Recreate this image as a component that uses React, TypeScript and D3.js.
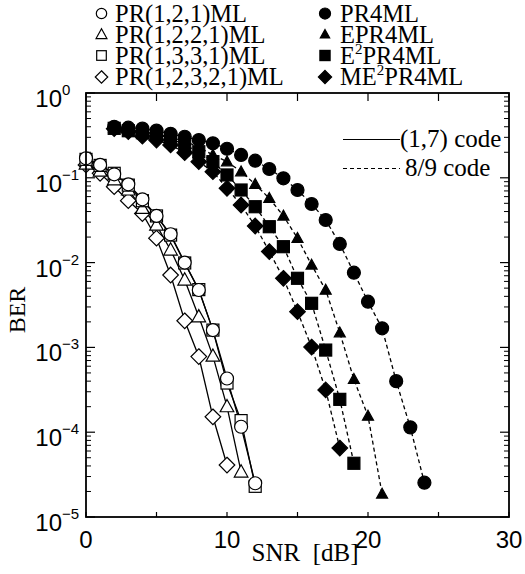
import React from "react";
import * as d3 from "d3";

// ---- data ----
const snrPR121 = [0, 1, 2, 3, 4, 5, 6, 7, 8, 9, 10, 11, 12];
const berPR121 = [0.17, 0.142, 0.11, 0.0838, 0.0558, 0.0355, 0.0216, 0.01, 0.00475, 0.0016, 4.3e-4, 1.16e-4, 2.5e-5];
const snrPR1221 = [0, 1, 2, 3, 4, 5, 6, 7, 8, 9, 10, 11];
const berPR1221 = [0.145, 0.12, 0.095, 0.072, 0.0437, 0.0277, 0.0141, 0.00624, 0.0023, 7.9e-4, 2.0e-4, 3.4e-5];
const snrPR1331 = [0, 1, 2, 3, 4, 5, 6, 7, 8, 9, 10, 11, 12];
const berPR1331 = [0.165, 0.14, 0.113, 0.082, 0.0537, 0.0355, 0.0211, 0.0099, 0.0048, 0.0016, 3.8e-4, 1.37e-4, 2.3e-5];
const snrPR12321 = [0, 1, 2, 3, 4, 5, 6, 7, 8, 9, 10];
const berPR12321 = [0.142, 0.113, 0.0785, 0.0537, 0.0379, 0.0194, 0.00714, 0.00206, 7.8e-4, 1.52e-4, 4.1e-5];

const snrPR4 = [2, 3, 4, 5, 6, 7, 8, 9, 10, 11, 12, 13, 14, 15, 16, 17, 18, 19, 20, 21, 22, 23, 24];
const berPR4 = [0.4, 0.39, 0.38, 0.36, 0.33, 0.305, 0.279, 0.255, 0.22, 0.186, 0.159, 0.127, 0.0986, 0.0718, 0.0491, 0.0318, 0.0166, 0.0076, 0.00346, 0.00168, 4.0e-4, 1.14e-4, 2.54e-5];
const snrEPR4 = [2, 3, 4, 5, 6, 7, 8, 9, 10, 11, 12, 13, 14, 15, 16, 17, 18, 19, 20, 21];
const berEPR4 = [0.39, 0.37, 0.35, 0.33, 0.3, 0.27, 0.23, 0.186, 0.155, 0.118, 0.0838, 0.0573, 0.0355, 0.0194, 0.00937, 0.00475, 0.00149, 4.2e-4, 1.55e-4, 1.87e-5];
const snrE2PR4 = [2, 3, 4, 5, 6, 7, 8, 9, 10, 11, 12, 13, 14, 15, 16, 17, 18, 19];
const berE2PR4 = [0.383, 0.359, 0.34, 0.32, 0.292, 0.244, 0.203, 0.155, 0.108, 0.0718, 0.0456, 0.0265, 0.0154, 0.00653, 0.00331, 9.3e-4, 2.44e-4, 4.3e-5];
const snrME2PR4 = [2, 3, 4, 5, 6, 7, 8, 9, 10, 11, 12, 13, 14, 15, 16, 17, 18];
const berME2PR4 = [0.38, 0.35, 0.31, 0.279, 0.244, 0.198, 0.155, 0.118, 0.0752, 0.0478, 0.027, 0.0135, 0.00653, 0.00264, 0.00101, 3.15e-4, 6.5e-5];

const xTickLabels = ["0", "10", "20", "30"];
const yTickExps = ["0", "−1", "−2", "−3", "−4", "−5"];

type Shape = "circle" | "triangle" | "square" | "diamond";

const W = 525, H = 574;
const L = 86, R = 509, T = 93, B = 517;

const x = d3.scaleLinear().domain([0, 30]).range([L, R]);
const y = d3.scaleLog().domain([1e-5, 1]).range([B, T]);

function Marker({ shape, cx, cy, filled, s = 1 }: { shape: Shape; cx: number; cy: number; filled: boolean; s?: number }) {
  const fill = filled ? "#000" : "#fff";
  const sw = 1.2;
  if (shape === "circle") return <circle cx={cx} cy={cy} r={6.5 * s} fill={fill} stroke="#000" strokeWidth={sw} />;
  if (shape === "square") {
    const h = 6 * s;
    return <rect x={cx - h} y={cy - h} width={2 * h} height={2 * h} fill={fill} stroke="#000" strokeWidth={sw} />;
  }
  if (shape === "diamond") {
    const h = 7.8 * s;
    return <path d={`M${cx},${cy - h}L${cx + h},${cy}L${cx},${cy + h}L${cx - h},${cy}Z`} fill={fill} stroke="#000" strokeWidth={sw} />;
  }
  const h = (filled ? 5.5 : 6.8) * s;
  return (
    <path
      d={`M${cx},${cy - h * 1.05}L${cx + h},${cy + h * 0.75}L${cx - h},${cy + h * 0.75}Z`}
      fill={fill}
      stroke="#000"
      strokeWidth={sw}
    />
  );
}

const series = [
  { name: "PR4ML", xs: snrPR4, ys: berPR4, shape: "circle" as Shape, filled: true },
  { name: "EPR4ML", xs: snrEPR4, ys: berEPR4, shape: "triangle" as Shape, filled: true },
  { name: "ME2PR4ML", xs: snrME2PR4, ys: berME2PR4, shape: "diamond" as Shape, filled: true },
  { name: "E2PR4ML", xs: snrE2PR4, ys: berE2PR4, shape: "square" as Shape, filled: true },
  { name: "PR12321", xs: snrPR12321, ys: berPR12321, shape: "diamond" as Shape, filled: false },
  { name: "PR1221", xs: snrPR1221, ys: berPR1221, shape: "triangle" as Shape, filled: false },
  { name: "PR1331", xs: snrPR1331, ys: berPR1331, shape: "square" as Shape, filled: false },
  { name: "PR121", xs: snrPR121, ys: berPR121, shape: "circle" as Shape, filled: false },
];

const line = d3
  .line<[number, number]>()
  .x((d) => x(d[0]))
  .y((d) => y(d[1]));

export default function App() {
  const serif = "'Liberation Serif', 'Times New Roman', serif";
  const sans = "'Liberation Sans', Arial, sans-serif";

  const majors = [1, 1e-1, 1e-2, 1e-3, 1e-4, 1e-5];
  const minors: number[] = [];
  for (let e = -5; e < 0; e++) for (let m = 2; m <= 9; m++) minors.push(m * Math.pow(10, e));
  const xTicks = [0, 5, 10, 15, 20, 25, 30];

  const legLeft = [
    { shape: "circle" as Shape, label: "PR(1,2,1)ML" },
    { shape: "triangle" as Shape, label: "PR(1,2,2,1)ML" },
    { shape: "square" as Shape, label: "PR(1,3,3,1)ML" },
    { shape: "diamond" as Shape, label: "PR(1,2,3,2,1)ML" },
  ];
  const legRight = [
    { shape: "circle" as Shape, pre: "PR4ML", sup: "", post: "" },
    { shape: "triangle" as Shape, pre: "EPR4ML", sup: "", post: "" },
    { shape: "square" as Shape, pre: "E", sup: "2", post: "PR4ML" },
    { shape: "diamond" as Shape, pre: "ME", sup: "2", post: "PR4ML" },
  ];
  const rowBase = [21.5, 42.5, 63.5, 85];

  return (
    <svg width={W} height={H} style={{ position: "absolute", left: 0, top: 0, background: "#fff" }}>
      <rect x={0} y={0} width={W} height={H} fill="#fff" />
      {series.map((s) => (
        <path
          key={"l" + s.name}
          d={line(s.xs.map((v, i) => [v, s.ys[i]] as [number, number])) || ""}
          fill="none"
          stroke="#000"
          strokeWidth={1.3}
          strokeDasharray={s.filled ? "4,3" : undefined}
        />
      ))}
      {series.map((s) =>
        s.xs.map((v, i) => (
          <Marker key={s.name + i} shape={s.shape} filled={s.filled} cx={x(v)} cy={y(s.ys[i])} />
        ))
      )}
      <rect x={L} y={T} width={R - L} height={B - T} fill="none" stroke="#000" strokeWidth={1.8} />
      {xTicks.map((t) => (
        <g key={"xt" + t}>
          <line x1={x(t)} x2={x(t)} y1={B} y2={B - 5} stroke="#000" strokeWidth={1.2} />
          <line x1={x(t)} x2={x(t)} y1={T} y2={T + 8} stroke="#000" strokeWidth={1.2} />
        </g>
      ))}
      {majors.map((t) => (
        <g key={"ym" + t}>
          <line x1={L} x2={L + 9} y1={y(t)} y2={y(t)} stroke="#000" strokeWidth={1.2} />
          <line x1={R} x2={R - 9} y1={y(t)} y2={y(t)} stroke="#000" strokeWidth={1.2} />
        </g>
      ))}
      {minors.map((t) => (
        <g key={"yn" + t}>
          <line x1={L} x2={L + 5} y1={y(t)} y2={y(t)} stroke="#000" strokeWidth={1} />
          <line x1={R} x2={R - 5} y1={y(t)} y2={y(t)} stroke="#000" strokeWidth={1} />
        </g>
      ))}
      {xTickLabels.map((lab) => (
        <text key={"xl" + lab} x={x(+lab)} y={548} textAnchor="middle" fontFamily={sans} fontSize={24}>
          {lab}
        </text>
      ))}
      {majors.map((t, i) => (
        <text key={"yl" + t} x={62} y={y(t) + 14} textAnchor="end" fontFamily={sans} fontSize={24}>
          10
          <tspan dy={-12} fontSize={15} x={62} textAnchor="start">
            {yTickExps[i]}
          </tspan>
        </text>
      ))}
      <text x={305} y={561} textAnchor="middle" fontFamily={serif} fontSize={25} style={{ whiteSpace: "pre" }}>
        {"SNR  [dB]"}
      </text>
      <text transform={`translate(25,310) rotate(-90)`} textAnchor="middle" fontFamily={serif} fontSize={24}>
        BER
      </text>
      {legLeft.map((d, i) => (
        <g key={"ll" + i}>
          <Marker shape={d.shape} filled={false} cx={101.5} cy={rowBase[i] - 8} s={0.8} />
          <text x={115} y={rowBase[i]} fontFamily={serif} fontSize={24.5}>
            {d.label}
          </text>
        </g>
      ))}
      {legRight.map((d, i) => (
        <g key={"lr" + i}>
          <Marker shape={d.shape} filled={true} cx={325} cy={rowBase[i] - 8} s={0.85} />
          <text x={340} y={rowBase[i]} fontFamily={serif} fontSize={24.5}>
            {d.pre}
            {d.sup ? (
              <tspan dy={-10} fontSize={15}>
                {d.sup}
              </tspan>
            ) : null}
            {d.sup ? <tspan dy={10}>{d.post}</tspan> : null}
          </text>
        </g>
      ))}
      <line x1={343} x2={400} y1={139.5} y2={139.5} stroke="#000" strokeWidth={1.2} />
      <text x={400} y={147} fontFamily={serif} fontSize={25}>
        (1,7) code
      </text>
      <line x1={343} x2={400} y1={168.5} y2={168.5} stroke="#000" strokeWidth={1.2} strokeDasharray="4,3" />
      <text x={405} y={176} fontFamily={serif} fontSize={25}>
        8/9 code
      </text>
    </svg>
  );
}
